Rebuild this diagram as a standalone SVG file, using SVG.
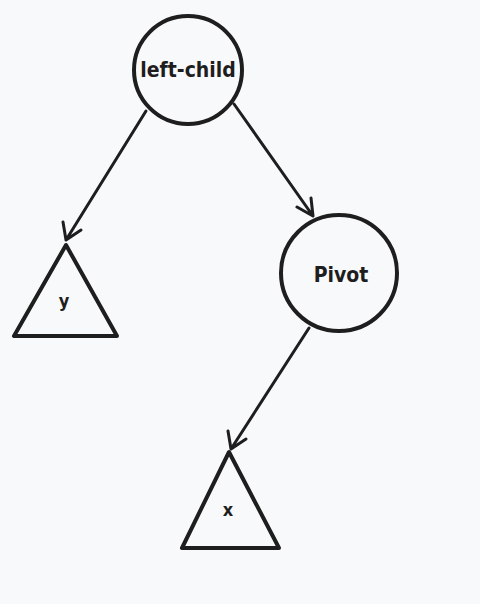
<svg xmlns="http://www.w3.org/2000/svg" width="480" height="604" viewBox="0 0 480 604">
<style>
.shape{fill:none;stroke:#1e1e1e;stroke-width:4;stroke-linejoin:round;stroke-linecap:round}
.edge{fill:none;stroke:#1e1e1e;stroke-width:3;stroke-linecap:round;stroke-linejoin:round}
.lbl{font-family:"DejaVu Sans Condensed","Liberation Sans",sans-serif;font-weight:bold;fill:#1e1e1e;text-anchor:middle}
</style>
<rect width="480" height="604" fill="#f8f9fa"/>
<g id="connectors">
<path class="edge" d="M146 111 L66 240 M63 222 L66 240 L81 230"/>
<path class="edge" d="M234 104 L313 216 M297 207 L313 216 L311 198"/>
<path class="edge" d="M309 328 L231 449 M228 431 L231 449 L246 439"/>
</g>
<g id="left-child">
<circle class="shape" cx="188" cy="70" r="54"/>
<text class="lbl" x="188" y="77" font-size="21">left-child</text>
</g>
<g id="pivot">
<circle class="shape" cx="339" cy="273" r="58"/>
<text class="lbl" x="341" y="282" font-size="21">Pivot</text>
</g>
<g id="y">
<polygon class="shape" points="66,245 14,336 117,336"/>
<text class="lbl" x="64" y="307" font-size="18">y</text>
</g>
<g id="x">
<polygon class="shape" points="229,452 182,548 279,548"/>
<text class="lbl" x="228" y="516" font-size="18">x</text>
</g>
</svg>
